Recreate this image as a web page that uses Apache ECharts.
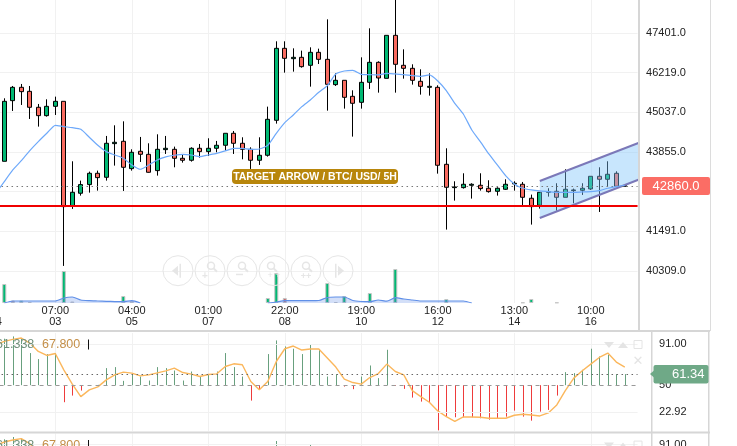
<!DOCTYPE html>
<html lang="en">
<head>
<meta charset="utf-8">
<title>BTC/USD 5H</title>
<style>html,body{margin:0;padding:0;background:#fff}</style>
</head>
<body>
<div id="chart" style="width:737px;height:446px;"></div>
<script src="https://cdn.jsdelivr.net/npm/echarts@6/dist/echarts.min.js"></script>
<script>
// first entry of every list is the candle just off the left edge
const open = [43400,43578,45385,45782,45663,45187,44938,45216,45365,42247,42625,42883,43220,43101,44104,44174,43359,43876,43786,43300,43925,43935,43667,43608,43965,43866,43965,44055,44412,44114,43935,43608,43757,44799,46944,46636,46676,46438,46825,46616,45862,45991,45514,45335,45931,46527,46050,47331,46438,46348,45961,45782,45782,43488,42793,42793,42863,42863,42774,42684,42744,42903,42893,42476,42267,42654,42684,42505,42704,42714,42754,43131,43042,43220,42833];
const close = [43578,45365,45782,45653,45187,44938,45216,45365,42227,42654,42883,43220,43091,44114,44144,43399,43846,43786,43250,43935,43965,43667,43608,43965,43866,43965,44055,44412,44114,43935,43608,43757,44829,46944,46646,46676,46398,46825,46616,45872,45991,45484,45306,45931,46527,46060,47331,46468,46348,45991,45812,45812,43459,42803,42813,42893,42893,42764,42674,42774,42893,42923,42505,42227,42654,42674,42505,42744,42724,42774,43131,43042,43191,42833,42853];
const low = [43300,43578,45077,45256,44839,44611,44909,44958,40460,42158,42555,42644,42704,43002,43449,42694,43300,43558,43240,43151,43796,43399,43538,43568,43687,43737,43846,43896,43796,43637,43350,43469,43717,44700,46219,46249,46368,45802,46477,45087,45822,45147,44313,45147,45733,45623,46050,45623,46040,45862,45564,45534,43210,41542,42406,42764,42466,42704,42644,42555,42724,42704,42267,41691,42168,42525,42108,42505,42327,42575,42724,42068,42823,42823,42833];
const high = [43700,45455,45822,45882,45822,45286,45425,45504,45365,43578,43002,43270,43300,44333,44650,44769,43935,44303,44114,44382,44333,44015,43766,43995,44094,44263,44184,44412,44481,44293,43995,44293,45206,47153,47153,46944,46875,46974,46934,47808,46199,45991,45693,46676,47540,46557,47331,48483,46914,46468,46319,46199,45842,43965,42982,43220,42923,43220,43012,42803,43042,42982,42962,42585,42654,42774,42923,43340,42764,42923,43131,43399,43578,43280,42853];
const priceMa = [42625,42972,43320,43598,43896,44164,44412,44650,44611,44581,44531,44293,44055,43866,43766,43667,43469,43340,43469,43618,43707,43757,43786,43766,43717,43766,43816,43886,43965,43965,43935,43945,44055,44412,44730,44958,45206,45405,45633,45832,46180,46269,46289,46170,46160,46150,46199,46180,46160,46130,46110,46150,45971,45683,45306,44988,44511,44164,43796,43469,43141,42903,42774,42724,42694,42674,42654,42654,42654,42664,42674,42704,42774,42823,42863];

const volUp = [null,19,null,2.5,null,null,null,null,32,null,null,null,null,null,null,7,null,null,null,null,null,null,null,null,null,null,null,null,null,null,null,null,5,30,null,null,null,null,null,20,null,7,null,null,10,null,null,34,null,null,null,null,null,4,null,null,null,null,null,null,null,null,0.5,4,null,null,0.5,null,null,null,null,null,null,null,null];
const volDown = [null,null,2.5,null,1,null,null,null,null,1.5,null,null,null,null,null,null,2,null,null,null,null,null,null,null,null,null,null,null,null,null,null,null,null,null,5,null,null,null,null,null,1,null,null,null,null,null,null,null,null,null,null,null,null,null,null,null,null,null,null,null,null,null,null,null,null,null,null,null,null,null,null,null,null,null,null];
const volMa = [null,0,2,2,2,2,2,2,5,6,3,2.3,2,1.7,1.4,1.3,2.3,0,null,null,null,null,null,null,null,null,null,null,null,null,null,null,0,1,2.3,2.3,2.3,2.3,2.5,5.5,6,6,2.5,1.5,1.3,3,1.8,5.3,4,3,2,2,2,2,2,2,0,null,null,null,null,null,null,null,null,null,null,null,null,null,null,null,null,null,null];

const rsiHist = [88.6,96.3,98.6,97,82,76,81,82,33,39.6,44.6,49.5,50.3,67,68,54.3,62,58.6,54.6,68,67,64.6,54.6,63.6,58.6,60.3,63.6,82,68,58.6,34.6,46,81,94.6,88.6,86.3,81,91,85.3,58.6,61,48.6,46,58.6,69.6,57,85.3,49.3,46.3,37.6,33.6,33,5,18.6,18,18,18,17,15.6,17,18.6,24.6,18.6,14.6,23.6,25.3,39.6,63,62,65.3,86.3,78.6,80.3,61,61];
const rsiLine = [90.3,93.6,95.6,97,92,83.6,79.6,81.6,65.3,51,38.6,45.3,48.3,55.3,60.3,63,62,59.3,60.3,62.3,64.3,67,62.6,61,58.6,60.6,61.3,68.6,71.3,70.3,53.6,45.3,53.6,73.6,86.3,89,85,86,86,77,68,56,52.6,51,57.6,61.6,71,63.6,60.3,44.6,38.6,33,24.3,18.6,14,18.3,18.3,18,17,17,17,20,21,20.3,19.3,22.3,30.3,44.6,57,64.3,71,77.6,82,73,68];

const priceTicks = [40309,41491,42673,43855,45037,46219,47401];
const rsiTicks = [22.92,50,91];
const timeTickPos = [0,7,16,25,34,43,52,61,70];
const timeTickTop = ['','07:00','04:00','01:00','22:00','19:00','16:00','13:00','10:00'];
const timeTickDate = ['04','03','05','07','08','10','12','14','16'];

const supportLevel = 42245;
const lastPrice = 42830;
const channelX = [63,74.75];
const channelTop = [42991,44138];
const channelBottom = [41888,43041];

// one empty slot past the last candle, the plot runs a bit further than the data
const categories = open.concat([0]).map((v,i) => String(i));
const isTimeTick = i => timeTickPos.indexOf(i) >= 0;
const candles = open.map((v,i) => [v,close[i],low[i],high[i]]);

const GREY = '#f1f1f1';
const SEP = '#d6d6d6';
const FONT = '"Liberation Sans", Arial, sans-serif';
const paneTop = [0,333,433.6];
const paneH = [303,98,98];
const gridLeft = -8.45;
const gridW = 646;

function catAxis(idx, withLabels) {
    return {
        type:'category', gridIndex:idx, data:categories, boundaryGap:true,
        axisLine:{show:false}, axisTick:{show:false},
        axisLabel:{
            show:withLabels, interval:(i) => isTimeTick(i), fontFamily:FONT, fontSize:11, color:'#222',
            lineHeight:10.5, margin:3, hideOverlap:false,
            formatter:(v,i) => { let k = timeTickPos.indexOf(i); return k < 0 ? '' : timeTickTop[k] + '\n' + timeTickDate[k]; }
        },
        splitLine:{show:true, alignWithLabel:true, interval:(i) => isTimeTick(i) && i > 0, lineStyle:{color:GREY,width:1}}
    };
}
function rsiAxis(idx) {
    return {
        type:'value', gridIndex:idx, position:'right', min:4.3, max:102,
        axisLine:{show:false}, axisTick:{show:false,customValues:rsiTicks},
        axisLabel:{customValues:rsiTicks, fontFamily:FONT, fontSize:11, color:'#222', margin:21.5, align:'left', padding:[2,0,0,0],
            formatter:(v) => v === 50 ? '50' : v.toFixed(2)},
        splitLine:{show:false}
    };
}
function rsiSeries(idx, yIdx) {
    return [
        {
            type:'line', xAxisIndex:idx, yAxisIndex:yIdx, data:rsiTicks.map(() => null), silent:true,
            markLine:{silent:true, symbol:'none', label:{show:false}, animation:false, data:[
                {yAxis:rsiTicks[0], lineStyle:{color:GREY,width:1,type:'solid'}},
                {yAxis:rsiTicks[2], lineStyle:{color:GREY,width:1,type:'solid'}},
                {yAxis:rsiTicks[1], lineStyle:{color:'#999',width:1,type:[4,4]}},
                {yAxis:rsiHist[rsiHist.length-1], lineStyle:{color:'#666',width:1,type:[1.5,3.5]}}
            ]}
        },
        {
            type:'custom', xAxisIndex:idx, yAxisIndex:yIdx, silent:true, clip:true,
            data:rsiHist.map((v,i) => [i,v]), encode:{x:0,y:1},
            renderItem:(params,api) => {
                let a = api.coord([api.value(0),rsiTicks[1]]);
                let b = api.coord([api.value(0),api.value(1)]);
                let x = Math.round(a[0]) + 0.5;
                return {type:'line', shape:{x1:x,y1:a[1],x2:x,y2:b[1]},
                    style:{stroke:api.value(1) < rsiTicks[1] ? '#ee3b3b' : '#68a07e', lineWidth:1}};
            }
        },
        {
            type:'line', xAxisIndex:idx, yAxisIndex:yIdx, data:rsiLine, symbol:'none', silent:true,
            lineStyle:{color:'#fbb75c',width:1.4}, z:4
        }
    ];
}

// faint chart controls drawn on top of the plot
function zoomButtons() {
    const c = '#e6e6e6', out = [], xs = [178,210,242,274,306,338], y = 270.7;
    xs.forEach(x => out.push({type:'circle', shape:{cx:x,cy:y,r:15}, style:{fill:'none',stroke:c,lineWidth:1}, z:20}));
    const glass = (x,dx,dy) => [
        {type:'circle', shape:{cx:x+dx,cy:y+dy-2,r:3.5}, style:{fill:'none',stroke:c,lineWidth:1.5}, z:20},
        {type:'line', shape:{x1:x+dx+2.5,y1:y+dy+0.5,x2:x+dx+6,y2:y+dy+4}, style:{stroke:c,lineWidth:2}, z:20}
    ];
    out.push({type:'polygon', shape:{points:[[172,y],[178,y-5],[178,y+5]]}, style:{fill:c}, z:20});
    out.push({type:'rect', shape:{x:179.5,y:y-7,width:1.5,height:14}, style:{fill:c}, z:20});
    out.push(...glass(210,1,-3), {type:'text', style:{text:'+',x:205,y:y+6,fill:c,font:'bold 10px '+FONT,textAlign:'center',textVerticalAlign:'middle'}, z:20});
    out.push(...glass(242,0,-3), {type:'rect', shape:{x:236,y:y+3,width:7,height:1.5}, style:{fill:c}, z:20});
    out.push(...glass(274,-3,-3), {type:'text', style:{text:'+ +',x:274,y:y+5,fill:c,font:'9px '+FONT,textAlign:'center',textVerticalAlign:'middle'}, z:20});
    out.push(...glass(306,0,-3), {type:'text', style:{text:'++',x:306,y:y+6,fill:c,font:'bold 9px '+FONT,textAlign:'center',textVerticalAlign:'middle'}, z:20});
    out.push({type:'polygon', shape:{points:[[344,y],[338,y-5],[338,y+5]]}, style:{fill:c}, z:20});
    out.push({type:'rect', shape:{x:335,y:y-7,width:1.5,height:14}, style:{fill:c}, z:20});
    return out;
}
function paneTools(dy) {
    const c = '#e4e4e4';
    return [
        {type:'polygon', shape:{points:[[604,342+dy],[614,342+dy],[609,348+dy]]}, style:{fill:c}, z:20},
        {type:'polygon', shape:{points:[[618,348+dy],[628,348+dy],[623,342+dy]]}, style:{fill:c}, z:20},
        {type:'rect', shape:{x:634,y:340.5+dy,width:8,height:8}, style:{fill:'none',stroke:c,lineWidth:1}, z:20},
        {type:'text', style:{text:'61.338',x:34.3,y:344.5+dy,fill:'#6f8f7a',font:'12.5px '+FONT,textAlign:'right',textVerticalAlign:'middle'}, z:20},
        {type:'text', style:{text:'67.800',x:42,y:344.5+dy,fill:'#c48f48',font:'12.5px '+FONT,textAlign:'left',textVerticalAlign:'middle'}, z:20},
        {type:'rect', shape:{x:88,y:339.5+dy,width:1,height:10}, style:{fill:'#111'}, z:20}
    ];
}
const overlays = [
    {type:'rect', shape:{x:638,y:0,width:2,height:331}, style:{fill:SEP}, z:15},
    {type:'rect', shape:{x:710,y:0,width:1,height:331}, style:{fill:'#dcdcdc'}, z:15},
    {type:'rect', shape:{x:0,y:330,width:710,height:2}, style:{fill:SEP}, z:15},
    {type:'rect', shape:{x:0,y:431.5,width:710,height:2}, style:{fill:SEP}, z:15},
    {type:'rect', shape:{x:651,y:331,width:1.5,height:115}, style:{fill:SEP}, z:15},
    {type:'rect', shape:{x:708,y:331,width:1.5,height:115}, style:{fill:SEP}, z:15},
    // last price tag
    {type:'rect', shape:{x:642,y:177,width:68,height:18,r:2}, style:{fill:'#fb6d65'}, z:16},
    {type:'text', style:{text:'42860.0',x:676,y:186.3,fill:'#fff',font:'13px '+FONT,textAlign:'center',textVerticalAlign:'middle'}, z:17},
    // oscillator tag
    {type:'polygon', shape:{points:[[650,374],[654,370.5],[654,377.5]]}, style:{fill:'#6fa987'}, z:16},
    {type:'rect', shape:{x:653.5,y:365,width:55,height:18.5,r:2}, style:{fill:'#6fa987'}, z:16},
    {type:'text', style:{text:'61.34',x:704.5,y:374.3,fill:'#fff',font:'13px '+FONT,textAlign:'right',textVerticalAlign:'middle'}, z:17},
    // banner
    {type:'rect', shape:{x:232,y:169,width:166,height:15,r:4}, style:{fill:'#b8860b'}, z:16},
    {type:'text', style:{text:'TARGET ARROW / BTC/ USD/ 5H',x:315,y:176.8,fill:'#fff',font:'bold 10.5px '+FONT,textAlign:'center',textVerticalAlign:'middle'}, z:17},
    // close pane cross
    {type:'text', style:{text:'✕',x:638,y:362,fill:'#e4e4e4',font:'bold 13px "DejaVu Sans"',textAlign:'center',textVerticalAlign:'middle'}, z:20}
].concat(zoomButtons(), paneTools(0), paneTools(100.6));

const chart = echarts.init(document.getElementById('chart'), null, {renderer:'canvas'});
chart.setOption({
    animation:false,
    backgroundColor:'#fff',
    grid:paneTop.map((t,i) => ({left:gridLeft,top:t,width:gridW,height:paneH[i],outerBoundsMode:'none'})),
    xAxis:[
        catAxis(0,true), catAxis(1,false), catAxis(2,false),
        {type:'value', gridIndex:0, min:-1.5, max:74.5, show:false}
    ],
    yAxis:[
        {
            type:'value', gridIndex:0, position:'right', min:39355, max:48384, scale:true,
            axisLine:{show:false}, axisTick:{show:false,customValues:priceTicks},
            axisLabel:{customValues:priceTicks, fontFamily:FONT, fontSize:11, color:'#222', margin:8.5, align:'left', padding:[2,0,0,0],
                formatter:(v) => v.toFixed(1)},
            splitLine:{show:true, lineStyle:{color:GREY,width:1}}
        },
        {type:'value', gridIndex:0, min:0, max:303, show:false, splitLine:{show:false}},
        rsiAxis(1), rsiAxis(2)
    ],
    graphic:{elements:overlays},
    series:[
        {type:'bar', xAxisIndex:0, yAxisIndex:1, data:volUp, barWidth:4, barGap:'-100%', silent:true,
            itemStyle:{color:'#00b873',borderColor:'#c4c4c4',borderWidth:1}},
        {type:'bar', xAxisIndex:0, yAxisIndex:1, data:volDown, barWidth:4, barGap:'-100%', silent:true,
            itemStyle:{color:'#c8696b',borderColor:'#c4c4c4',borderWidth:1}},
        {type:'line', xAxisIndex:0, yAxisIndex:1, data:volMa, symbol:'none', smooth:0.2, silent:true, connectNulls:false,
            lineStyle:{color:'#5f8fe8',width:1.2}, areaStyle:{color:'rgba(90,135,230,0.38)'}},
        {
            type:'candlestick', xAxisIndex:0, yAxisIndex:0, data:candles, barWidth:4.5, silent:true, z:3,
            itemStyle:{color:'#00b873',color0:'#f96b60',borderColor:'#000',borderColor0:'#000',borderWidth:1},
            markLine:{silent:true, symbol:'none', label:{show:false}, animation:false, z:5, data:[
                {yAxis:supportLevel, lineStyle:{color:'#f00000',width:2,type:'solid'}},
                {yAxis:lastPrice, lineStyle:{color:'#777',width:1,type:[1.5,3.5]}}
            ]}
        },
        {
            type:'custom', xAxisIndex:3, yAxisIndex:0, silent:true, z:4,
            data:[[channelX[0],channelBottom[0]]], encode:{x:0,y:1},
            renderItem:(params,api) => {
                let a = api.coord([channelX[0],channelTop[0]]), b = api.coord([channelX[1],channelTop[1]]);
                let c = api.coord([channelX[1],channelBottom[1]]), d = api.coord([channelX[0],channelBottom[0]]);
                return {type:'group', children:[
                    {type:'polygon', shape:{points:[a,b,c,d]}, style:{fill:'rgba(125,195,250,0.42)'}},
                    {type:'line', shape:{x1:a[0],y1:a[1],x2:b[0],y2:b[1]}, style:{stroke:'#7b78b8',lineWidth:2}},
                    {type:'line', shape:{x1:d[0],y1:d[1],x2:c[0],y2:c[1]}, style:{stroke:'#7b78b8',lineWidth:2}}
                ]};
            }
        },
        {type:'line', xAxisIndex:0, yAxisIndex:0, data:priceMa, symbol:'none', smooth:0.2, silent:true, z:6,
            lineStyle:{color:'#6ea9fa',width:1.2}},
        ...rsiSeries(1,2),
        ...rsiSeries(2,3)
    ]
});
</script>
</body>
</html>
